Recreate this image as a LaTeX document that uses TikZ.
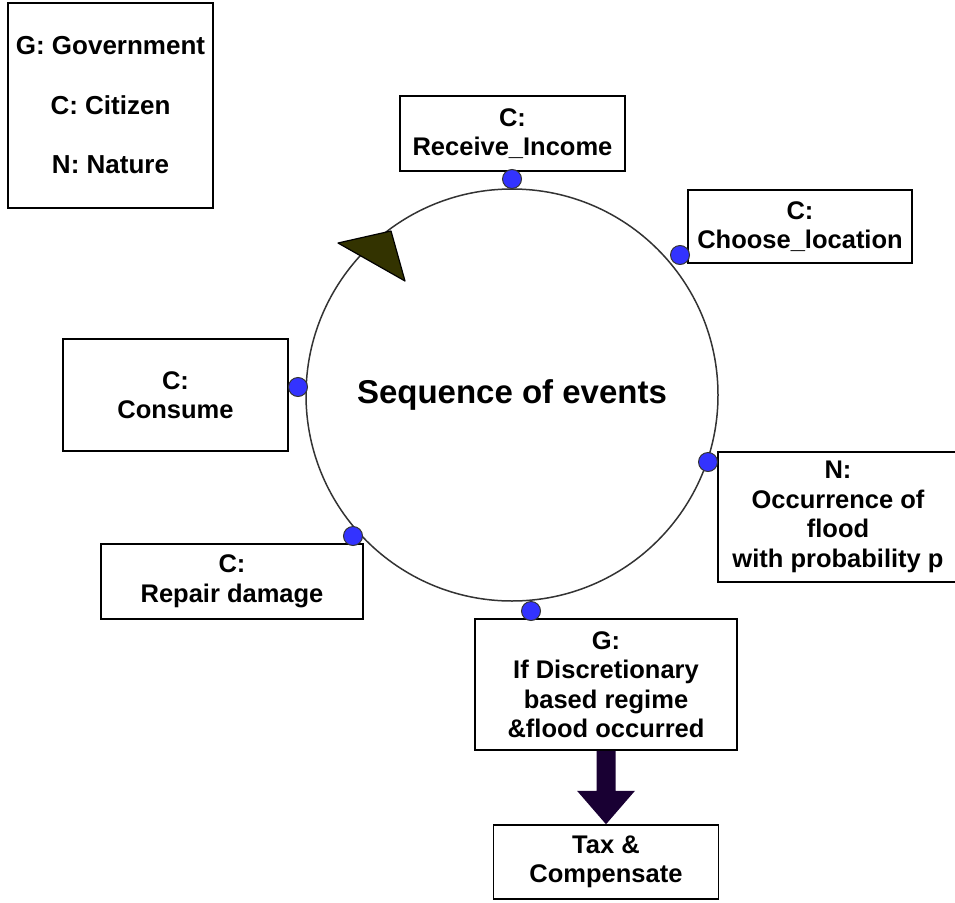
\documentclass[tikz,border=0pt]{standalone}
\usepackage{fontspec}
\setmainfont{Liberation Sans}
\usepackage{tikz}
\usetikzlibrary{calc}

\definecolor{custcol_ring}{RGB}{51, 51, 51}
\definecolor{custcol_port}{RGB}{51, 51, 255}
\definecolor{custcol_head}{RGB}{51, 51, 0}
\definecolor{custcol_fat}{RGB}{25, 0, 51}

\tikzset{
  evbox/.style={draw=black, line width=1.5pt, fill=white, align=center, inner sep=0,
    font=\fontsize{25.5pt}{29.5pt}\bfseries\selectfont},
  port/.style={circle, draw=custcol_ring, line width=1pt, fill=custcol_port, minimum size=19pt, inner sep=0}
}

\begin{document}
\begin{tikzpicture}[x=1pt,y=-1pt]
\useasboundingbox (0,0) rectangle (955,902);
% legend
\node[evbox, minimum width=205pt, minimum height=205pt,
  font=\fontsize{26pt}{59.5pt}\bfseries\selectfont] (legend) at (110.5,105.5)
  {G: Government\\C: Citizen\\N: Nature};
% ring of events
\node[circle, draw=custcol_ring, line width=1.5pt, minimum size=412pt, inner sep=0,
  font=\fontsize{33pt}{36pt}\bfseries\selectfont] (seq) at (512,395) {Sequence of events};
\filldraw[fill=custcol_head, draw=black, line width=1.2pt, line join=round]
  (338,243) -- (391,231) -- (405,281) -- cycle;
% event boxes
\node[evbox, minimum width=225pt, minimum height=75pt] (recv) at (512.5,133.5) {C:\\Receive\_Income};
\node[evbox, minimum width=224pt, minimum height=73pt] (choose) at (800,226.5) {C:\\Choose\_location};
\node[evbox, minimum width=240pt, minimum height=130pt] (flood) at (838,517) {N:\\Occurrence of\\flood\\with probability p};
\node[evbox, minimum width=262pt, minimum height=131pt] (gov) at (606,684.5) {G:\\If Discretionary\\based regime\\\&flood occurred};
\node[evbox, minimum width=225pt, minimum height=74pt] (tax) at (606,862) {Tax \&\\Compensate};
\node[evbox, minimum width=262pt, minimum height=75pt] (repair) at (232,581.5) {C:\\Repair damage};
\node[evbox, minimum width=225pt, minimum height=112pt] (consume) at (175.5,395) {C:\\Consume};
% ports on the ring
\node[port] (precv) at (512,179) {};
\node[port] (pchoose) at (680,255) {};
\node[port] (pflood) at (708,462) {};
\node[port] (pgov) at (531,611) {};
\node[port] (prepair) at (353,536) {};
\node[port] (pconsume) at (298,387) {};
% fat arrow gov -> tax
\path (gov.south) ++(0,40) coordinate (neck);
\fill[custcol_fat] ($(gov.south)+(-9.5,0)$) -- ($(neck)+(-9.5,0)$) -- ($(neck)+(-29,0)$)
  -- (tax.north) -- ($(neck)+(29,0)$) -- ($(neck)+(9.5,0)$) -- ($(gov.south)+(9.5,0)$) -- cycle;
\end{tikzpicture}
\end{document}
